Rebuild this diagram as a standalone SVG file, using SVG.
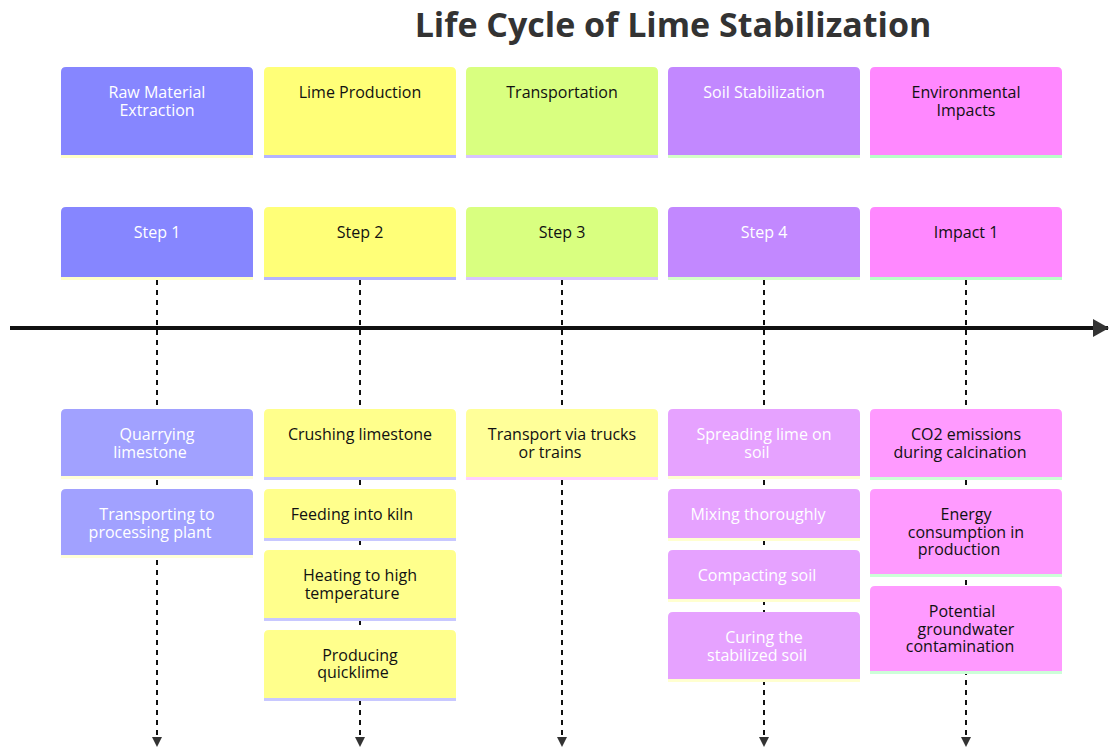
<svg xmlns="http://www.w3.org/2000/svg" width="1110" height="749" viewBox="0 0 1110 749">
<style>
text{font-family:"Open Sans","Liberation Sans",sans-serif;font-size:16px;text-anchor:middle}
.t{font-size:34px;font-weight:bold;fill:#333}
.w{fill:#ffffff}
.k{fill:#111111}
.conn line{stroke:#111;stroke-width:2;stroke-dasharray:5,5}
</style>
<defs>
<marker id="ah" markerWidth="10" markerHeight="10" refX="8" refY="5" orient="auto" markerUnits="userSpaceOnUse"><path d="M0,0 L10,5 L0,10 Z" fill="#333"/></marker>
<marker id="ahBig" markerWidth="18" markerHeight="18" refX="15" refY="9" orient="auto" markerUnits="userSpaceOnUse"><path d="M0,0 L16,9 L0,18 Z" fill="#333"/></marker>
</defs>
<rect width="1110" height="749" fill="#ffffff"/>
<text class="t" x="673" y="37">Life Cycle of Lime Stabilization</text>

<g id="connectors" class="conn">
<line x1="157" y1="280" x2="157" y2="745" marker-end="url(#ah)"/>
<line x1="360" y1="280" x2="360" y2="745" marker-end="url(#ah)"/>
<line x1="562" y1="280" x2="562" y2="745" marker-end="url(#ah)"/>
<line x1="764" y1="280" x2="764" y2="745" marker-end="url(#ah)"/>
<line x1="966" y1="280" x2="966" y2="745" marker-end="url(#ah)"/>
<line x1="10" y1="328" x2="1108" y2="328" style="stroke:#111;stroke-width:4;stroke-dasharray:none" marker-end="url(#ahBig)"/>
</g>

<!-- Column 1 -->
<g id="sec1"><path d="M61,155V72Q61,67 66,67H248Q253,67 253,72V155Z" fill="#8686ff"/><rect x="61" y="155" width="192" height="3" fill="#ffffc8"/><text class="w" x="157" y="98">Raw Material</text><text class="w" x="157" y="116">Extraction</text></g>
<g id="step1"><path d="M61,277V212Q61,207 66,207H248Q253,207 253,212V277Z" fill="#8686ff"/><rect x="61" y="277" width="192" height="3" fill="#ffffc8"/><text class="w" x="157" y="238">Step 1</text></g>
<g id="ev1a"><path d="M61,476V414Q61,409 66,409H248Q253,409 253,414V476Z" fill="#a1a1ff"/><rect x="61" y="476" width="192" height="3" fill="#ffffd8"/><text class="w" x="157" y="440">Quarrying</text><text class="w" x="150" y="458">limestone</text></g>
<g id="ev1b"><path d="M61,555V494Q61,489 66,489H248Q253,489 253,494V555Z" fill="#a1a1ff"/><rect x="61" y="555" width="192" height="3" fill="#ffffd8"/><text class="w" x="157" y="520">Transporting to</text><text class="w" x="150" y="538">processing plant</text></g>

<!-- Column 2 -->
<g id="sec2"><path d="M264,155V72Q264,67 269,67H451Q456,67 456,72V155Z" fill="#ffff78"/><rect x="264" y="155" width="192" height="3" fill="#b4b4ff"/><text class="k" x="360" y="98">Lime Production</text></g>
<g id="step2"><path d="M264,277V212Q264,207 269,207H451Q456,207 456,212V277Z" fill="#ffff78"/><rect x="264" y="277" width="192" height="3" fill="#b4b4ff"/><text class="k" x="360" y="238">Step 2</text></g>
<g id="ev2a"><path d="M264,477V414Q264,409 269,409H451Q456,409 456,414V477Z" fill="#ffff8c"/><rect x="264" y="477" width="192" height="3" fill="#c8c8ff"/><text class="k" x="360" y="440">Crushing limestone</text></g>
<g id="ev2b"><path d="M264,538V494Q264,489 269,489H451Q456,489 456,494V538Z" fill="#ffff8c"/><rect x="264" y="538" width="192" height="3" fill="#c8c8ff"/><text class="k" x="352" y="520">Feeding into kiln</text></g>
<g id="ev2c"><path d="M264,618V555Q264,550 269,550H451Q456,550 456,555V618Z" fill="#ffff8c"/><rect x="264" y="618" width="192" height="3" fill="#c8c8ff"/><text class="k" x="360" y="581">Heating to high</text><text class="k" x="352" y="599">temperature</text></g>
<g id="ev2d"><path d="M264,698V635Q264,630 269,630H451Q456,630 456,635V698Z" fill="#ffff8c"/><rect x="264" y="698" width="192" height="3" fill="#c8c8ff"/><text class="k" x="360" y="661">Producing</text><text class="k" x="353" y="678">quicklime</text></g>

<!-- Column 3 -->
<g id="sec3"><path d="M466,155V72Q466,67 471,67H653Q658,67 658,72V155Z" fill="#d9ff80"/><rect x="466" y="155" width="192" height="3" fill="#d8c4ff"/><text class="k" x="562" y="98">Transportation</text></g>
<g id="step3"><path d="M466,277V212Q466,207 471,207H653Q658,207 658,212V277Z" fill="#d9ff80"/><rect x="466" y="277" width="192" height="3" fill="#d8c4ff"/><text class="k" x="562" y="238">Step 3</text></g>
<g id="ev3a"><path d="M466,477V414Q466,409 471,409H653Q658,409 658,414V477Z" fill="#ffff99"/><rect x="466" y="477" width="192" height="3" fill="#ffd0ff"/><text class="k" x="562" y="440">Transport via trucks</text><text class="k" x="550" y="458">or trains</text></g>

<!-- Column 4 -->
<g id="sec4"><path d="M668,155V72Q668,67 673,67H855Q860,67 860,72V155Z" fill="#c288ff"/><rect x="668" y="155" width="192" height="3" fill="#d4ffc8"/><text class="w" x="764" y="98">Soil Stabilization</text></g>
<g id="step4"><path d="M668,277V212Q668,207 673,207H855Q860,207 860,212V277Z" fill="#c288ff"/><rect x="668" y="277" width="192" height="3" fill="#d4ffc8"/><text class="w" x="764" y="238">Step 4</text></g>
<g id="ev4a"><path d="M668,476V414Q668,409 673,409H855Q860,409 860,414V476Z" fill="#e6a2ff"/><rect x="668" y="476" width="192" height="3" fill="#ffffd0"/><text class="w" x="764" y="440">Spreading lime on</text><text class="w" x="757" y="458">soil</text></g>
<g id="ev4b"><path d="M668,538V494Q668,489 673,489H855Q860,489 860,494V538Z" fill="#e6a2ff"/><rect x="668" y="538" width="192" height="3" fill="#ffffd0"/><text class="w" x="758" y="520">Mixing thoroughly</text></g>
<g id="ev4c"><path d="M668,599V555Q668,550 673,550H855Q860,550 860,555V599Z" fill="#e6a2ff"/><rect x="668" y="599" width="192" height="3" fill="#ffffd0"/><text class="w" x="757" y="581">Compacting soil</text></g>
<g id="ev4d"><path d="M668,679V617Q668,612 673,612H855Q860,612 860,617V679Z" fill="#e6a2ff"/><rect x="668" y="679" width="192" height="3" fill="#ffffd0"/><text class="w" x="764" y="643">Curing the</text><text class="w" x="757" y="661">stabilized soil</text></g>

<!-- Column 5 -->
<g id="sec5"><path d="M870,155V72Q870,67 875,67H1057Q1062,67 1062,72V155Z" fill="#ff88ff"/><rect x="870" y="155" width="192" height="3" fill="#b8ffc8"/><text class="k" x="966" y="98">Environmental</text><text class="k" x="966" y="116">Impacts</text></g>
<g id="step5"><path d="M870,277V212Q870,207 875,207H1057Q1062,207 1062,212V277Z" fill="#ff88ff"/><rect x="870" y="277" width="192" height="3" fill="#b8ffc8"/><text class="k" x="966" y="238">Impact 1</text></g>
<g id="ev5a"><path d="M870,477V414Q870,409 875,409H1057Q1062,409 1062,414V477Z" fill="#ff9aff"/><rect x="870" y="477" width="192" height="3" fill="#ccffd8"/><text class="k" x="966" y="440">CO2 emissions</text><text class="k" x="960" y="458">during calcination</text></g>
<g id="ev5b"><path d="M870,574V494Q870,489 875,489H1057Q1062,489 1062,494V574Z" fill="#ff9aff"/><rect x="870" y="574" width="192" height="3" fill="#ccffd8"/><text class="k" x="966" y="520">Energy</text><text class="k" x="966" y="538">consumption in</text><text class="k" x="959" y="555">production</text></g>
<g id="ev5c"><path d="M870,671V591Q870,586 875,586H1057Q1062,586 1062,591V671Z" fill="#ff9aff"/><rect x="870" y="671" width="192" height="3" fill="#ccffd8"/><text class="k" x="962" y="617">Potential</text><text class="k" x="966" y="635">groundwater</text><text class="k" x="960" y="652">contamination</text></g>
</svg>
